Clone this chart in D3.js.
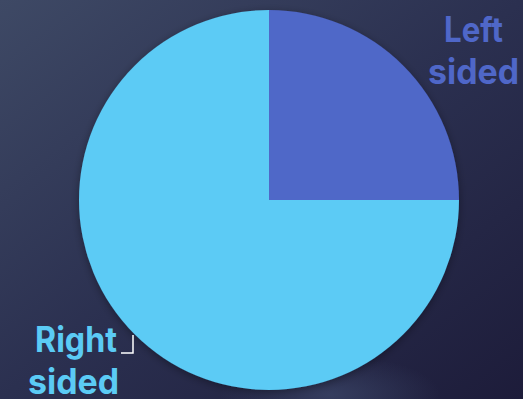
<!DOCTYPE html>
<html><head><meta charset="utf-8">
<script src="https://cdn.jsdelivr.net/npm/d3@7/dist/d3.min.js"></script>
<style>html,body{margin:0;padding:0;overflow:hidden;}svg{display:block;}</style>
</head><body>
<script>
const categories = ["Left sided", "Right sided"];
const values = [25, 75];
const colors = ["#4F67C8", "#5BCBF5"];

const W = 523, H = 399;
const svg = d3.select("body").append("svg").attr("width", W).attr("height", H);
const defs = svg.append("defs");
const bg = defs.append("linearGradient").attr("id","bg").attr("x1","0").attr("y1","0").attr("x2","1").attr("y2","1");
bg.append("stop").attr("offset","0").attr("stop-color","#3E4965");
bg.append("stop").attr("offset","0.5").attr("stop-color","#2B3050");
bg.append("stop").attr("offset","1").attr("stop-color","#1D1C3A");
svg.append("rect").attr("width",W).attr("height",H).attr("fill","url(#bg)");
const glow = defs.append("radialGradient").attr("id","glow").attr("cx","0.5").attr("cy","0.5").attr("r","0.5");
glow.append("stop").attr("offset","0").attr("stop-color","#3A4466").attr("stop-opacity",0.8);
glow.append("stop").attr("offset","1").attr("stop-color","#3A4466").attr("stop-opacity",0);
svg.append("ellipse").attr("cx",330).attr("cy",395).attr("rx",110).attr("ry",40).attr("fill","url(#glow)");
const f = defs.append("filter").attr("id","sh").attr("x","-20%").attr("y","-20%").attr("width","140%").attr("height","140%");
f.append("feDropShadow").attr("dx",0).attr("dy",2).attr("stdDeviation",4).attr("flood-color","#000").attr("flood-opacity",0.35);

const cx = 269, cy = 200, r = 190;
const pie = d3.pie().sort(null).value(d => d)(values);
const arc = d3.arc().innerRadius(0).outerRadius(r);
const g = svg.append("g").attr("transform", `translate(${cx},${cy})`).attr("filter","url(#sh)");
g.selectAll("path").data(pie).join("path").attr("d", arc).attr("fill", (d,i) => colors[i]);

const font = "'Century Gothic', 'URW Gothic', Inter, 'Open Sans', sans-serif";
const labels = [
  {lines:["Left","sided"], x:[444,428], w:[59,91], y:[42,84]},
  {lines:["Right","sided"], x:[35,28], w:[82,91], y:[352,394]}
];
labels.forEach((l,i) => {
  l.lines.forEach((s,j) => svg.append("text").attr("font-family",font)
    .attr("font-weight","bold").attr("font-size",35).attr("fill",colors[i])
    .attr("x",l.x[j]).attr("y",l.y[j]).attr("textLength",l.w[j])
    .attr("lengthAdjust","spacingAndGlyphs").text(s));
});
svg.append("polyline").attr("points","121,353 133,353 133,335").attr("fill","none")
  .attr("stroke","#FFFFFF").attr("stroke-width",1.5);
</script>
</body></html>
